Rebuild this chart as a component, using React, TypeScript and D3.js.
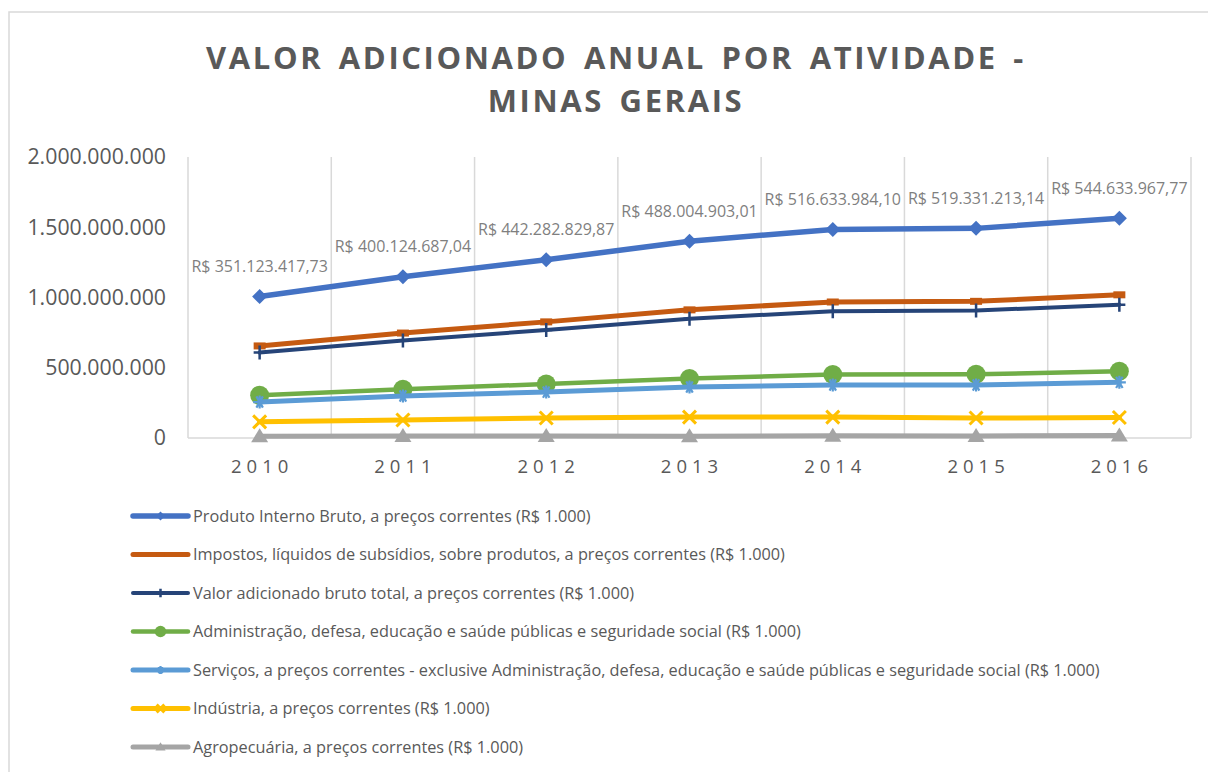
import React, { useEffect, useRef } from "react";
import * as d3 from "d3";

// anos (categorias do eixo X)
const years = ["2010", "2011", "2012", "2013", "2014", "2015", "2016"];

// séries em R$ 1.000 (linhas empilhadas)
const pib = [351123417.73, 400124687.04, 442282829.87, 488004903.01, 516633984.1, 519331213.14, 544633967.77];
const impostos = [46.9e6, 53.3e6, 58.1e6, 63.9e6, 65.2e6, 65.9e6, 70.1e6];
const vab = [304.2e6, 346.8e6, 384.2e6, 424.1e6, 451.4e6, 453.4e6, 474.5e6];
const apu = [48.2e6, 47.8e6, 57.2e6, 61.1e6, 74.4e6, 76.4e6, 78.5e6];
const servicos = [141e6, 171e6, 185e6, 214e6, 228e6, 235e6, 250e6];
const industria = [103e6, 114e6, 127e6, 136e6, 133e6, 127e6, 129e6];
const agro = [12e6, 14e6, 15e6, 13e6, 16e6, 15e6, 17e6];

// rótulos de dados do PIB
const pibLabels = [
  "R$ 351.123.417,73",
  "R$ 400.124.687,04",
  "R$ 442.282.829,87",
  "R$ 488.004.903,01",
  "R$ 516.633.984,10",
  "R$ 519.331.213,14",
  "R$ 544.633.967,77",
];

const yTicks = [0, 500000000, 1000000000, 1500000000, 2000000000];

const seriesNames = [
  "Produto Interno Bruto, a preços correntes (R$ 1.000)",
  "Impostos, líquidos de subsídios, sobre produtos, a preços correntes (R$ 1.000)",
  "Valor adicionado bruto total, a preços correntes (R$ 1.000)",
  "Administração, defesa, educação e saúde públicas e seguridade social (R$ 1.000)",
  "Serviços, a preços correntes - exclusive Administração, defesa, educação e saúde públicas e seguridade social (R$ 1.000)",
  "Indústria, a preços correntes (R$ 1.000)",
  "Agropecuária, a preços correntes (R$ 1.000)",
];

const keys = ["pib", "impostos", "vab", "apu", "servicos", "industria", "agro"];
const colors = ["#4472C4", "#C55A11", "#264478", "#70AD47", "#5B9BD5", "#FFC000", "#A5A5A5"];
const markers = ["diamond", "dash", "plus", "circle", "asterisk", "x", "triangle"];
const widths = [5.5, 5, 4, 4.5, 5, 5, 5];

const FONT = "'Open Sans', sans-serif";
const TEXT = "#595959";

function drawMarker(g, type, color, s) {
  if (type === "diamond") {
    g.append("path").attr("d", `M0,${-7.5 * s}L${7.5 * s},0L0,${7.5 * s}L${-7.5 * s},0Z`).attr("fill", color);
  } else if (type === "dash") {
    g.append("rect").attr("x", -6 * s).attr("y", -3.5 * s).attr("width", 12 * s).attr("height", 7 * s).attr("fill", color);
  } else if (type === "plus") {
    g.append("path").attr("d", `M${-6 * s},0H${6 * s}M0,${-7 * s}V${7 * s}`).attr("stroke", color).attr("stroke-width", 2.5);
  } else if (type === "circle") {
    g.append("circle").attr("r", 9.5 * s).attr("fill", color);
  } else if (type === "asterisk") {
    const r = 6.5 * s;
    const p = [0, 60, 120].map((a) => {
      const rad = (a * Math.PI) / 180;
      return `M${-r * Math.cos(rad)},${-r * Math.sin(rad)}L${r * Math.cos(rad)},${r * Math.sin(rad)}`;
    });
    g.append("path").attr("d", p.join("") + `M0,${-r}V${r}`).attr("stroke", color).attr("stroke-width", 2.2);
  } else if (type === "x") {
    const r = 6.5 * s;
    g.append("path").attr("d", `M${-r},${-r}L${r},${r}M${r},${-r}L${-r},${r}`).attr("stroke", color).attr("stroke-width", 3);
  } else if (type === "triangle") {
    g.append("path").attr("d", `M0,${-8 * s}L${8.5 * s},${6 * s}L${-8.5 * s},${6 * s}Z`).attr("fill", color);
  }
}

export default function App() {
  const svgRef = useRef(null);

  useEffect(() => {
    const width = 1208;
    const height = 772;
    const svg = d3.select(svgRef.current);
    svg.attr("width", width).attr("height", height);
    svg.selectAll("*").remove();

    const table = years.map((yr, i) => ({
      year: yr,
      pib: pib[i],
      impostos: impostos[i],
      vab: vab[i],
      apu: apu[i],
      servicos: servicos[i],
      industria: industria[i],
      agro: agro[i],
    }));

    // empilhamento: agropecuária embaixo, PIB no topo
    const stack = d3.stack().keys([...keys].reverse());
    const stacked = stack(table);
    const byKey = {};
    stacked.forEach((s) => (byKey[s.key] = s));

    const x = d3.scaleBand().domain(years).range([188, 1191]);
    const y = d3.scaleLinear().domain([0, 2000000000]).range([438, 157]);
    const cx = (d) => x(d) + x.bandwidth() / 2;

    svg.append("rect").attr("width", width).attr("height", height).attr("fill", "#fff");
    // borda do gráfico
    svg
      .append("path")
      .attr("d", `M9,${height}V12H${width}`)
      .attr("fill", "none")
      .attr("stroke", "#D9D9D9")
      .attr("stroke-width", 1.5);

    // título
    const title = svg
      .append("text")
      .attr("text-anchor", "middle")
      .attr("font-family", FONT)
      .attr("font-weight", 700)
      .attr("font-size", 31)
      .attr("letter-spacing", 2.6)
      .attr("word-spacing", 5)
      .attr("fill", TEXT);
    title.append("tspan").attr("x", 616).attr("y", 69).text("VALOR ADICIONADO ANUAL POR ATIVIDADE -");
    title.append("tspan").attr("x", 616).attr("y", 112).text("MINAS GERAIS");

    // linhas de grade verticais
    const gridX = years.map((d) => x(d)).concat([x.range()[1]]);
    svg
      .append("g")
      .selectAll("line")
      .data(gridX)
      .join("line")
      .attr("x1", (d) => d)
      .attr("x2", (d) => d)
      .attr("y1", y(2000000000))
      .attr("y2", y(0))
      .attr("stroke", "#D9D9D9")
      .attr("stroke-width", 1.5);
    svg
      .append("line")
      .attr("x1", x.range()[0])
      .attr("x2", x.range()[1])
      .attr("y1", y(0))
      .attr("y2", y(0))
      .attr("stroke", "#D9D9D9")
      .attr("stroke-width", 1.5);

    // eixo Y
    const fmt = d3.formatLocale({ decimal: ",", thousands: ".", grouping: [3], currency: ["R$ ", ""] }).format(",.0f");
    svg
      .append("g")
      .selectAll("text")
      .data(yTicks)
      .join("text")
      .attr("x", 166)
      .attr("y", (d) => y(d))
      .attr("dy", "0.35em")
      .attr("text-anchor", "end")
      .attr("font-family", FONT)
      .attr("font-size", 21.3)
      .attr("fill", TEXT)
      .text((d) => fmt(d));

    // eixo X
    svg
      .append("g")
      .selectAll("text")
      .data(years)
      .join("text")
      .attr("x", (d) => cx(d) + 2.5)
      .attr("y", 467)
      .attr("dy", "0.35em")
      .attr("text-anchor", "middle")
      .attr("font-family", FONT)
      .attr("font-size", 18.5)
      .attr("letter-spacing", 5)
      .attr("fill", TEXT)
      .text((d) => d);

    // linhas e marcadores
    const line = d3
      .line()
      .x((d) => cx(d.data.year))
      .y((d) => y(d[1]));

    keys.forEach((k, i) => {
      const s = byKey[k];
      svg
        .append("path")
        .datum(s)
        .attr("d", line)
        .attr("fill", "none")
        .attr("stroke", colors[i])
        .attr("stroke-width", widths[i])
        .attr("stroke-linejoin", "round")
        .attr("stroke-linecap", "round");
      s.forEach((d) => {
        const g = svg.append("g").attr("transform", `translate(${cx(d.data.year)},${y(d[1])})`);
        drawMarker(g, markers[i], colors[i], 1);
      });
    });

    // rótulos do PIB
    svg
      .append("g")
      .selectAll("text")
      .data(byKey["pib"])
      .join("text")
      .attr("x", (d) => cx(d.data.year))
      .attr("y", (d) => y(d[1]) - 30)
      .attr("dy", "0.35em")
      .attr("text-anchor", "middle")
      .attr("font-family", FONT)
      .attr("font-size", 16)
      .attr("fill", "#7F7F7F")
      .text((d, i) => pibLabels[i]);

    // legenda
    const legend = svg.append("g").attr("transform", "translate(133,516)");
    seriesNames.forEach((name, i) => {
      const row = legend.append("g").attr("transform", `translate(0,${i * 38.5})`);
      row
        .append("line")
        .attr("x1", 0)
        .attr("x2", 55)
        .attr("stroke", colors[i])
        .attr("stroke-width", widths[i])
        .attr("stroke-linecap", "round");
      const m = row.append("g").attr("transform", "translate(27.5,0)");
      drawMarker(m, markers[i], colors[i], 0.6);
      row
        .append("text")
        .attr("x", 60)
        .attr("dy", "0.35em")
        .attr("font-family", FONT)
        .attr("font-size", 16.3)
        .attr("fill", TEXT)
        .text(name);
    });
  }, []);

  return <svg ref={svgRef} style={{ position: "absolute", left: 0, top: 0, display: "block" }}></svg>;
}
